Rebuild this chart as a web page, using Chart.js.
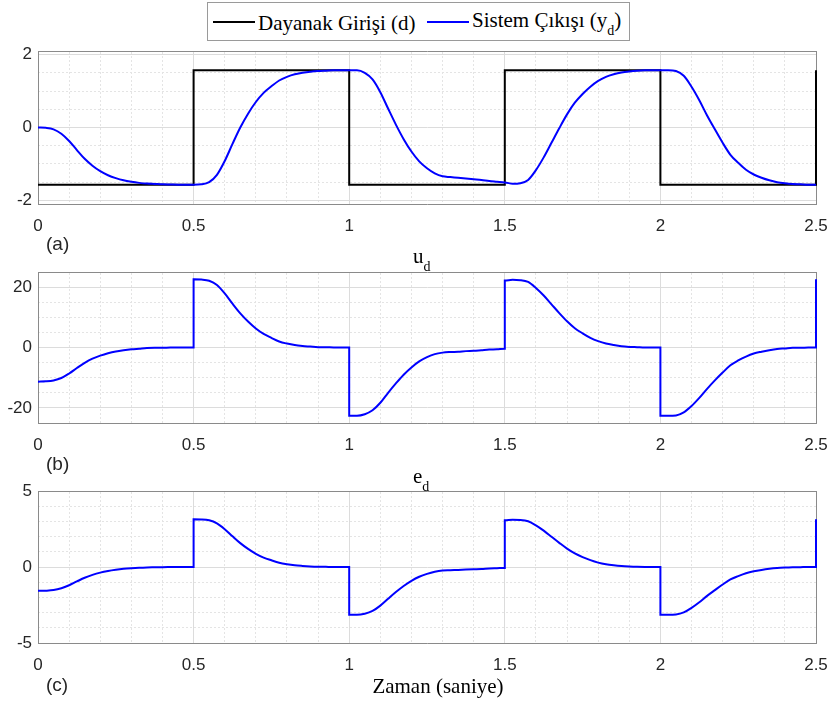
<!DOCTYPE html>
<html>
<head>
<meta charset="utf-8">
<script src="https://cdn.jsdelivr.net/npm/chart.js@4.4.1/dist/chart.umd.min.js"></script>
<style>
  body { margin: 0; background: #fff; }
  #page { position: relative; width: 831px; height: 706px; overflow: hidden; background: #fff; font-family: "Liberation Serif", "Times New Roman", serif; }
  canvas { position: absolute; left: 0; }
  #legend { position: absolute; left: 207px; top: 2px; width: 421px; height: 37px; border: 1px solid #9a9a9a; background: #fff; z-index: 5; }
  #legend .ls { position: absolute; top: 18px; width: 42px; height: 2px; }
  #legend .lt { position: absolute; font-size: 21px; line-height: 24px; white-space: nowrap; color: #000; }
  .sb { font-size: 14px; position: relative; top: 8px; }
  .ttl { position: absolute; font-size: 21px; line-height: 24px; white-space: nowrap; color: #000; z-index: 5; }
  .tag { position: absolute; font-family: "Liberation Sans", Arial, sans-serif; font-size: 19px; line-height: 19px; color: #262626; z-index: 5; }
</style>
</head>
<body>
<div id="page">
  <canvas id="panelA" width="831" height="213" style="top:31px"></canvas>
  <canvas id="panelB" width="831" height="211" style="top:252px"></canvas>
  <canvas id="panelC" width="831" height="212" style="top:471px"></canvas>

  <div id="legend">
    <span class="ls" style="left:5px;background:#000"></span>
    <span class="lt" style="left:50px;top:8px">Dayanak Girişi (d)</span>
    <span class="ls" style="left:219px;background:#0000ff"></span>
    <span class="lt" style="left:264px;top:5px">Sistem Çıkışı (y<span class="sb">d</span>)</span>
  </div>

  <div class="ttl" style="left:413px;top:244px">u<span class="sb">d</span></div>
  <div class="ttl" style="left:413px;top:464px">e<span class="sb">d</span></div>
  <div class="tag" style="left:46px;top:234px">(a)</div>
  <div class="tag" style="left:46px;top:454px">(b)</div>
  <div class="tag" style="left:46px;top:675px">(c)</div>
  <div class="ttl" style="left:0;width:876px;text-align:center;top:674px">Zaman (saniye)</div>
</div>

<script>
// time axis (s), duplicated points at the switching instants
const zaman = [
  0, 0.025, 0.05, 0.075, 0.1, 0.125, 0.15, 0.175, 0.2, 0.225, 0.25, 0.275, 0.3, 0.325, 0.35, 0.375, 0.4, 0.425, 0.45, 0.475, 0.5,
  0.5, 0.525, 0.55, 0.575, 0.6, 0.625, 0.65, 0.675, 0.7, 0.725, 0.75, 0.775, 0.8, 0.825, 0.85, 0.875, 0.9, 0.925, 0.95, 0.975, 1,
  1, 1.025, 1.05, 1.075, 1.1, 1.125, 1.15, 1.175, 1.2, 1.225, 1.25, 1.275, 1.3, 1.325, 1.35, 1.375, 1.4, 1.425, 1.45, 1.475, 1.5,
  1.5, 1.525, 1.55, 1.575, 1.6, 1.625, 1.65, 1.675, 1.7, 1.725, 1.75, 1.775, 1.8, 1.825, 1.85, 1.875, 1.9, 1.925, 1.95, 1.975, 2,
  2, 2.025, 2.05, 2.075, 2.1, 2.125, 2.15, 2.175, 2.2, 2.225, 2.25, 2.275, 2.3, 2.325, 2.35, 2.375, 2.4, 2.425, 2.45, 2.475, 2.5,
  2.5
];

// reference input d (square wave)
const dayanakZaman = [0, 0.5, 0.5, 1, 1, 1.5, 1.5, 2, 2, 2.5, 2.5];
const dayanak = [-1.5708, -1.5708, 1.5708, 1.5708, -1.5708, -1.5708, 1.5708, 1.5708, -1.5708, -1.5708, 1.5708];

// system output y_d
const sistemCikisi = [
  0, -0.01, -0.05, -0.17, -0.37, -0.62, -0.86, -1.05, -1.2, -1.31, -1.39, -1.45, -1.49, -1.52, -1.54, -1.55, -1.56, -1.565, -1.57, -1.57, -1.57,
  -1.57, -1.56, -1.5, -1.3, -0.92, -0.45, 0, 0.38, 0.7, 0.95, 1.13, 1.29, 1.39, 1.46, 1.5, 1.53, 1.55, 1.56, 1.57, 1.57, 1.57,
  1.57, 1.57, 1.5, 1.32, 0.97, 0.52, 0.08, -0.32, -0.66, -0.93, -1.12, -1.26, -1.34, -1.36, -1.38, -1.4, -1.42, -1.44, -1.47, -1.49, -1.51,
  -1.51, -1.545, -1.53, -1.44, -1.17, -0.82, -0.42, -0.02, 0.36, 0.68, 0.92, 1.12, 1.28, 1.39, 1.46, 1.51, 1.54, 1.56, 1.57, 1.57, 1.57,
  1.57, 1.57, 1.55, 1.42, 1.12, 0.75, 0.33, -0.05, -0.42, -0.75, -0.97, -1.16, -1.29, -1.38, -1.45, -1.5, -1.53, -1.55, -1.56, -1.57, -1.57,
  -1.57
];

// control signal u_d
const uD = [
  -11.3, -11.2, -10.9, -10.1, -8.6, -6.8, -5.1, -3.7, -2.7, -1.9, -1.3, -0.9, -0.6, -0.4, -0.2, -0.1, -0.1, 0, 0, 0, 0,
  22.6, 22.5, 22.1, 20.7, 17.9, 14.5, 11.3, 8.6, 6.3, 4.5, 3.2, 2.0, 1.3, 0.8, 0.5, 0.3, 0.1, 0.1, 0, 0, 0,
  -22.6, -22.6, -22.1, -20.8, -18.3, -15.0, -11.9, -9.0, -6.6, -4.6, -3.2, -2.2, -1.7, -1.5, -1.4, -1.2, -1.1, -0.9, -0.7, -0.6, -0.4,
  22.2, 22.4, 22.3, 21.7, 19.7, 17.2, 14.3, 11.4, 8.7, 6.4, 4.7, 3.2, 2.1, 1.3, 0.8, 0.4, 0.2, 0.1, 0, 0, 0,
  -22.6, -22.6, -22.5, -21.5, -19.4, -16.7, -13.7, -10.9, -8.3, -5.9, -4.3, -3.0, -2.0, -1.4, -0.9, -0.5, -0.3, -0.1, -0.1, 0, 0,
  22.6
];

// tracking error e_d
const eD = [
  -1.57, -1.56, -1.52, -1.4, -1.2, -0.95, -0.71, -0.52, -0.37, -0.26, -0.18, -0.12, -0.08, -0.05, -0.03, -0.02, -0.01, -0.005, 0, 0, 0,
  3.14, 3.13, 3.07, 2.87, 2.49, 2.02, 1.57, 1.19, 0.87, 0.62, 0.44, 0.28, 0.18, 0.11, 0.07, 0.04, 0.02, 0.01, 0, 0, 0,
  -3.14, -3.14, -3.07, -2.89, -2.54, -2.09, -1.65, -1.25, -0.91, -0.64, -0.45, -0.31, -0.23, -0.21, -0.19, -0.17, -0.15, -0.13, -0.1, -0.08, -0.06,
  3.08, 3.115, 3.1, 3.01, 2.74, 2.39, 1.99, 1.59, 1.21, 0.89, 0.65, 0.45, 0.29, 0.18, 0.11, 0.06, 0.03, 0.01, 0, 0, 0,
  -3.14, -3.14, -3.12, -2.99, -2.69, -2.32, -1.9, -1.52, -1.15, -0.82, -0.6, -0.41, -0.28, -0.19, -0.12, -0.07, -0.04, -0.02, -0.01, 0, 0,
  3.14
];

// ticks and grid
const xTicks = [0, 0.5, 1, 1.5, 2, 2.5];
const xMinor = [0.1, 0.2, 0.3, 0.4, 0.6, 0.7, 0.8, 0.9, 1.1, 1.2, 1.3, 1.4, 1.6, 1.7, 1.8, 1.9, 2.1, 2.2, 2.3, 2.4];
const yTicksA = [-2, 0, 2];
const yMinorA = [-1.5, -1, -0.5, 0.5, 1, 1.5];
const yTicksB = [-20, 0, 20];
const yMinorB = [-15, -10, -5, 5, 10, 15];
const yTicksC = [-5, 0, 5];
const yMinorC = [-4, -3, -2, -1, 1, 2, 3, 4];

const pts = (xs, ys) => xs.map((x, i) => ({ x: x, y: ys[i] }));
const tickFont = { family: 'Liberation Sans', size: 17 };
const setTicks = arr => scale => { scale.ticks = arr.map(v => ({ value: v })); };
const noPad = s => { s.paddingLeft = 0; s.paddingRight = 0; s.paddingTop = 0; s.paddingBottom = 0; };

function makePanel(id, datasets, yMin, yMax, yTicks, yMinor) {
  new Chart(document.getElementById(id), {
    type: 'line',
    data: { datasets: datasets },
    options: {
      responsive: false,
      animation: false,
      layout: { padding: { top: 20, right: 15, left: 0, bottom: 0 } },
      plugins: { legend: { display: false }, tooltip: { enabled: false } },
      elements: { point: { radius: 0 } },
      scales: {
        x: {
          type: 'linear', min: 0, max: 2.5, position: 'bottom',
          afterBuildTicks: setTicks(xTicks),
          afterFit: s => { s.height = 40; noPad(s); },
          grid: { color: '#dcdcdc', drawTicks: false, z: -1 },
          border: { color: '#8a8a8a' },
          ticks: { font: tickFont, color: '#262626', padding: 12, maxRotation: 0, autoSkip: false, callback: v => String(v) }
        },
        xm: {
          type: 'linear', min: 0, max: 2.5, position: 'top',
          afterBuildTicks: setTicks(xMinor),
          afterFit: s => { s.height = 0; noPad(s); },
          grid: { color: '#e4e4e4', drawTicks: false, z: -1 },
          border: { color: '#8a8a8a', dash: [2, 2] },
          ticks: { display: false }
        },
        y: {
          type: 'linear', min: yMin, max: yMax, position: 'left',
          afterBuildTicks: setTicks(yTicks),
          afterFit: s => { s.width = 38; noPad(s); },
          grid: { color: '#dcdcdc', drawTicks: false, z: -1 },
          border: { color: '#8a8a8a' },
          ticks: { font: tickFont, color: '#262626', padding: 6, autoSkip: false, callback: v => String(v) }
        },
        ym: {
          type: 'linear', min: yMin, max: yMax, position: 'right',
          afterBuildTicks: setTicks(yMinor),
          afterFit: s => { s.width = 0; noPad(s); },
          grid: { color: '#e4e4e4', drawTicks: false, z: -1 },
          border: { color: '#8a8a8a', dash: [2, 2] },
          ticks: { display: false }
        }
      }
    }
  });
}

const blueLine = (label, ys) => ({
  label: label, data: pts(zaman, ys), borderColor: '#0000ff', borderWidth: 2,
  cubicInterpolationMode: 'monotone', fill: false, clip: 3, xAxisID: 'x', yAxisID: 'y'
});

makePanel('panelA', [
  blueLine('Sistem Çıkışı (y_d)', sistemCikisi),
  { label: 'Dayanak Girişi (d)', data: pts(dayanakZaman, dayanak), borderColor: '#000000', borderWidth: 2, tension: 0, fill: false, clip: 3, xAxisID: 'x', yAxisID: 'y' }
], -2.1, 2.1, yTicksA, yMinorA);

makePanel('panelB', [blueLine('u_d', uD)], -25, 25, yTicksB, yMinorB);
makePanel('panelC', [blueLine('e_d', eD)], -5, 5, yTicksC, yMinorC);
</script>
</body>
</html>
